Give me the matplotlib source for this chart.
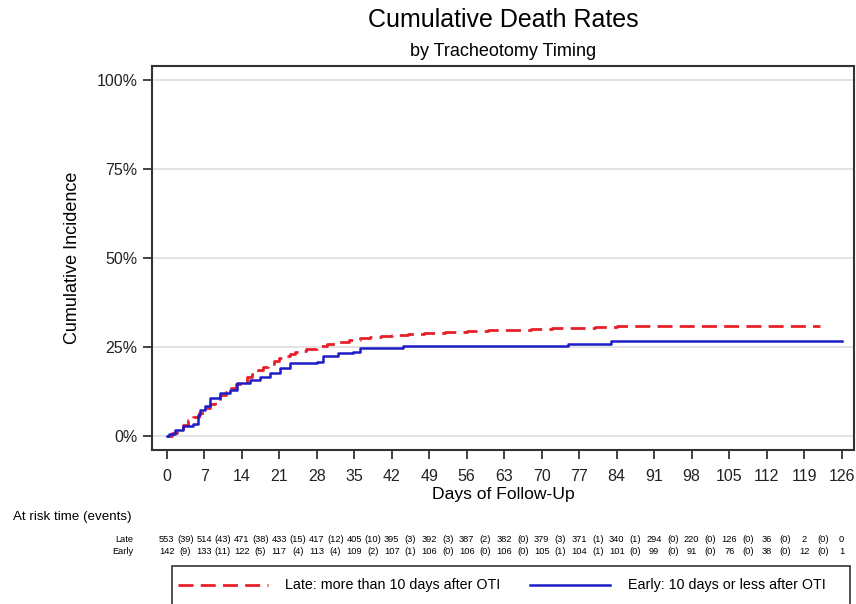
# Cumulative death rates by tracheotomy timing, with an at-risk table under the axes
import matplotlib
matplotlib.use('Agg')
import matplotlib.pyplot as plt
import matplotlib.transforms as mtransforms
from matplotlib.lines import Line2D
from matplotlib.patches import Rectangle
from matplotlib.ticker import FuncFormatter

plt.rcParams['font.family'] = ['Liberation Sans', 'DejaVu Sans']

# Late group (more than 10 days after OTI): cumulative incidence in %
late_days = [0, 1, 2, 3, 4, 5, 6, 7, 8, 9, 10, 11, 12, 13, 14, 15, 16, 17, 18, 19,
             20, 21, 22, 23, 24, 25, 26, 28, 30, 32, 34, 36, 38, 40, 42, 45, 48,
             52, 56, 60, 64, 68, 72, 76, 80, 84, 122]
late_pct = [0, 1.0, 2.0, 3.0, 4.5, 5.5, 6.5, 8.0, 9.0, 10.0, 11.5, 12.5, 13.5, 14.5,
            15.2, 16.5, 17.5, 18.5, 19.5, 20.3, 21.0, 22.0, 22.5, 23.0, 23.5, 24.0,
            24.5, 25.2, 26.0, 26.5, 27.0, 27.5, 27.8, 28.2, 28.5, 28.8, 29.0, 29.2,
            29.5, 29.7, 29.9, 30.1, 30.3, 30.5, 30.7, 30.9, 30.9]

# Early group (10 days or less after OTI)
early_days = [0, 0.5, 1.6, 3.1, 5.0, 5.9, 6.2, 7.2, 8.1, 9.9, 11.8, 13.1, 15.6, 17.4,
              19.3, 21.2, 23.0, 28.0, 29.2, 32.0, 34.8, 36.1, 44.2, 74.9, 83.0, 126]
early_pct = [0, 0.7, 1.7, 2.8, 3.4, 5.9, 7.3, 8.4, 10.6, 12.0, 13.0, 14.8, 15.7, 16.5,
             17.6, 19.0, 20.4, 20.9, 22.4, 23.3, 23.7, 24.7, 25.3, 26.0, 26.8, 26.8]

# at-risk table
risk_times = [0, 7, 14, 21, 28, 35, 42, 49, 56, 63, 70, 77, 84, 91, 98, 105, 112, 119, 126]
late_at_risk = [553, 514, 471, 433, 417, 405, 395, 392, 387, 382, 379, 371, 340, 294,
                220, 126, 36, 2, 0]
late_events = [39, 43, 38, 15, 12, 10, 3, 3, 2, 0, 3, 1, 1, 0, 0, 0, 0, 0]
early_at_risk = [142, 133, 122, 117, 113, 109, 107, 106, 106, 106, 105, 104, 101, 99,
                 91, 76, 38, 12, 1]
early_events = [9, 11, 5, 4, 4, 2, 1, 0, 0, 0, 1, 1, 0, 0, 0, 0, 0, 0]

red = '#e8202a'
blue = '#1c1cc8'
late_dash = (5.4, 2.6)
W, H = 856, 604

fig = plt.figure(figsize=(W / 100, H / 100), dpi=100)
ax = fig.add_axes([152 / W, 1 - 450 / H, (854 - 152) / W, (450 - 65.5) / H])

ax.step(late_days, late_pct, where='post', color=red, lw=2.0, dashes=late_dash)
ax.step(early_days, early_pct, where='post', color=blue, lw=1.8)

ax.set_xlim(-2.74, 128.3)
ax.set_ylim(-3.9, 104.1)
ax.set_xticks(risk_times)
ax.set_yticks([0, 25, 50, 75, 100])
ax.yaxis.set_major_formatter(FuncFormatter(lambda v, p: '%d%%' % v))
ax.grid(axis='y', color='#dedede', lw=1.2)
ax.set_axisbelow(True)
ax.tick_params(direction='out', length=6.5, width=1.2, labelsize=11.5, colors='#222222')
ax.tick_params(axis='x', pad=7)
ax.tick_params(axis='y', pad=4)
for s in ax.spines.values():
    s.set_color('#333333')
    s.set_linewidth(1.5)

ax.set_xlabel('Days of Follow-Up', fontsize=12.6, labelpad=2.5)
ax.set_ylabel('Cumulative Incidence', fontsize=13)
ax.yaxis.set_label_coords(-0.101, 0.5)

fig.text(503 / W, 1 - 20 / H, 'Cumulative Death Rates', ha='center', va='center', fontsize=18)
fig.text(503 / W, 1 - 52 / H, 'by Tracheotomy Timing', ha='center', va='center', fontsize=13)

# at risk table, x in data units, y in figure units
tsize = 6.7
trans = mtransforms.blended_transform_factory(ax.transData, fig.transFigure)
fig.text(13 / W, 1 - 517 / H, 'At risk time (events)', ha='left', va='center', fontsize=9.6)
y_late = 1 - 540 / H
y_early = 1 - 551 / H
fig.text(133 / W, y_late, 'Late', ha='right', va='center', fontsize=tsize)
fig.text(133 / W, y_early, 'Early', ha='right', va='center', fontsize=tsize)
for i, t in enumerate(risk_times):
    ax.text(t, y_late, str(late_at_risk[i]), transform=trans, ha='center', va='center', fontsize=tsize)
    ax.text(t, y_early, str(early_at_risk[i]), transform=trans, ha='center', va='center', fontsize=tsize)
    if i < len(late_events):
        ax.text(t + 3.5, y_late, '(%d)' % late_events[i], transform=trans, ha='center', va='center', fontsize=tsize)
        ax.text(t + 3.5, y_early, '(%d)' % early_events[i], transform=trans, ha='center', va='center', fontsize=tsize)

# legend box below the table, drawn in figure pixels
fig.add_artist(Rectangle((172 / W, -0.05), (850 - 172) / W, 1 - 566 / H + 0.05,
                         transform=fig.transFigure, fill=False, ec='#333333', lw=1.2))
y_leg = 1 - 585 / H
fig.add_artist(Line2D([178 / W, 268 / W], [y_leg, y_leg], transform=fig.transFigure,
                      color=red, lw=2.0, dashes=late_dash))
fig.text(285 / W, y_leg, 'Late: more than 10 days after OTI', ha='left', va='center', fontsize=10.3)
fig.add_artist(Line2D([530 / W, 610 / W], [y_leg, y_leg], transform=fig.transFigure,
                      color=blue, lw=1.8))
fig.text(628 / W, y_leg, 'Early: 10 days or less after OTI', ha='left', va='center', fontsize=10.3)

fig.savefig('out.png', dpi=100)
